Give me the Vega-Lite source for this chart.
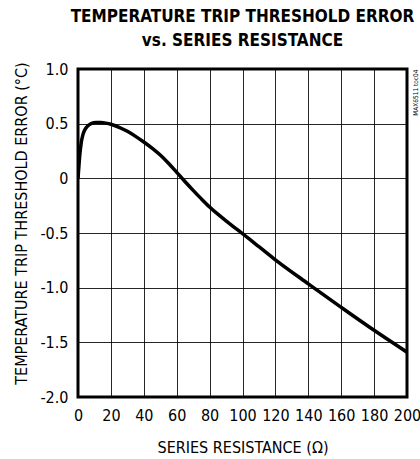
{
  "$schema": "https://vega.github.io/schema/vega-lite/v6.json",
  "autosize": {"type": "none"},
  "padding": {"left": 78, "top": 69, "right": 13, "bottom": 62},
  "width": 329,
  "height": 328,
  "background": "white",
  "title": {
    "text": ["TEMPERATURE TRIP THRESHOLD ERROR", "vs. SERIES RESISTANCE"],
    "font": "DejaVu Sans Condensed, Liberation Sans Narrow, sans-serif",
    "fontSize": 17,
    "fontWeight": "bold",
    "lineHeight": 24,
    "color": "black",
    "anchor": "middle",
    "frame": "group",
    "offset": 11
  },
  "config": {
    "view": {"stroke": "black", "strokeWidth": 3},
    "axis": {
      "labelFont": "DejaVu Sans Condensed, Liberation Sans Narrow, sans-serif",
      "titleFont": "DejaVu Sans Condensed, Liberation Sans Narrow, sans-serif",
      "labelFontSize": 16,
      "titleFontSize": 16,
      "titleFontWeight": "normal",
      "labelColor": "black",
      "titleColor": "black",
      "ticks": false,
      "domain": false,
      "gridColor": "black",
      "gridWidth": 1,
      "gridOpacity": 0.85,
      "labelOverlap": false
    }
  },
  "data": {
    "values": [
      {"r": 0, "err": 0.0},
      {"r": 0.5, "err": 0.1},
      {"r": 1, "err": 0.2},
      {"r": 2, "err": 0.33},
      {"r": 3, "err": 0.4},
      {"r": 4, "err": 0.44},
      {"r": 6, "err": 0.48},
      {"r": 8, "err": 0.5},
      {"r": 11, "err": 0.51},
      {"r": 14, "err": 0.51},
      {"r": 17, "err": 0.505},
      {"r": 20, "err": 0.495},
      {"r": 25, "err": 0.467},
      {"r": 30, "err": 0.43},
      {"r": 35, "err": 0.384},
      {"r": 40, "err": 0.332},
      {"r": 45, "err": 0.276},
      {"r": 50, "err": 0.213},
      {"r": 55, "err": 0.138},
      {"r": 60, "err": 0.055},
      {"r": 65, "err": -0.029},
      {"r": 70, "err": -0.11},
      {"r": 75, "err": -0.188},
      {"r": 80, "err": -0.262},
      {"r": 85, "err": -0.328},
      {"r": 90, "err": -0.389},
      {"r": 95, "err": -0.448},
      {"r": 100, "err": -0.506},
      {"r": 110, "err": -0.625},
      {"r": 120, "err": -0.745},
      {"r": 140, "err": -0.965},
      {"r": 160, "err": -1.18},
      {"r": 180, "err": -1.39},
      {"r": 200, "err": -1.59}
    ]
  },
  "encoding": {
    "x": {
      "field": "r", "type": "quantitative",
      "scale": {"domain": [0, 200], "nice": false},
      "axis": {
        "values": [0, 20, 40, 60, 80, 100, 120, 140, 160, 180, 200],
        "title": "SERIES RESISTANCE (Ω)",
        "labelPadding": 10,
        "titlePadding": 16,
        "labelFlush": false
      }
    }
  },
  "layer": [
    {
      "mark": {"type": "line", "color": "black", "strokeWidth": 3.5, "interpolate": "monotone", "clip": true},
      "encoding": {
        "y": {
          "field": "err", "type": "quantitative",
          "scale": {"domain": [-2, 1], "nice": false},
          "axis": {
            "values": [-2, -1.5, -1, -0.5, 0, 0.5, 1],
            "labelExpr": "datum.value == 0 ? '0' : (datum.value < 0 ? '-' : '') + format(abs(datum.value), '.1f')",
            "title": "TEMPERATURE TRIP THRESHOLD ERROR (°C)",
            "labelPadding": 10,
            "titlePadding": 10,
            "titleY": 154,
            "labelFlush": false
          }
        }
      }
    },
    {
      "mark": {"type": "line", "strokeOpacity": 0},
      "encoding": {
        "y": {
          "field": "err", "type": "quantitative",
          "axis": {
            "orient": "right",
            "grid": false,
            "labels": false,
            "title": "MAX6511 toc04",
            "titleFontSize": 6.5,
            "titleAngle": 270,
            "titleAnchor": "end",
            "titleAlign": "right",
            "titlePadding": 5,
            "titleBaseline": "top"
          }
        }
      }
    }
  ],
  "resolve": {"axis": {"y": "independent"}}
}
